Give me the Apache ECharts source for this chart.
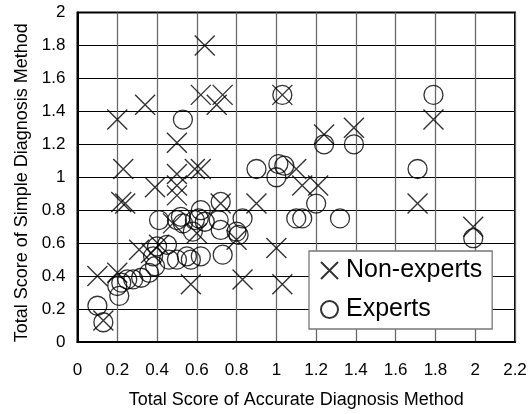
<!DOCTYPE html>
<html>
<head>
<meta charset="utf-8">
<script src="https://cdn.jsdelivr.net/npm/echarts@6/dist/echarts.min.js"></script>
<style>
html,body{margin:0;padding:0;background:#fff;}
#chart{width:532px;height:414px;}
</style>
</head>
<body>
<div id="chart"></div>
<script>
const seriesNames = ['Non-experts', 'Experts'];
const xAxisTitle = 'Total Score of Accurate Diagnosis Method';
const yAxisTitle = 'Total Score of Simple Diagnosis Method';

const nonExpertsPoints = [
  [0.64,1.80],[0.62,1.50],[0.70,1.44],[0.73,1.50],[1.03,1.50],[0.34,1.44],[0.20,1.35],
  [0.50,1.21],[0.23,1.05],[0.59,1.05],[0.62,1.05],[0.50,1.02],[1.24,1.26],[1.39,1.30],
  [1.79,1.35],[1.10,1.05],[1.13,0.95],[1.21,0.95],[1.71,0.84],[1.99,0.70],[1.00,0.57],
  [1.03,0.35],[0.22,0.85],[0.24,0.84],[0.39,0.94],[0.50,0.95],[0.50,0.89],[0.72,0.84],
  [0.90,0.84],[0.80,0.62],[0.57,0.35],[0.83,0.38],[0.10,0.40],[0.13,0.13],[0.31,0.56],
  [0.37,0.54],[0.41,0.59],[0.20,0.42],[0.60,0.66],[0.48,0.72]
];

const expertsPoints = [
  [1.03,1.50],[0.53,1.35],[1.24,1.20],[1.39,1.20],[1.79,1.50],[1.71,1.05],[0.90,1.05],
  [1.01,1.08],[1.04,1.07],[1.00,1.00],[1.20,0.84],[1.10,0.75],[1.13,0.75],[1.32,0.75],
  [1.99,0.63],[0.72,0.85],[0.41,0.74],[0.50,0.74],[0.52,0.76],[0.62,0.80],[0.53,0.72],
  [0.59,0.74],[0.64,0.73],[0.72,0.68],[0.83,0.75],[0.80,0.67],[0.81,0.65],[0.55,0.52],
  [0.62,0.52],[0.73,0.53],[0.38,0.52],[0.45,0.59],[0.50,0.50],[0.46,0.50],[0.10,0.22],
  [0.13,0.12],[0.20,0.34],[0.21,0.28],[0.22,0.36],[0.25,0.38],[0.28,0.38],[0.32,0.39],
  [0.36,0.42],[0.39,0.46],[0.40,0.58],[0.57,0.50],[0.58,0.67],[0.61,0.75],[0.71,0.74]
];

const xTickMin = 0, xTickMax = 2.2, xTickStep = 0.2;
const yTickMin = 0, yTickMax = 2, yTickStep = 0.2;

const FONT = '"Liberation Sans", Arial, sans-serif';
const fmt = v => String(+v.toFixed(1));
const crossPath = 'path://M0,0L10,10M10,0L0,10';

const chart = echarts.init(document.getElementById('chart'), null, {renderer: 'canvas'});
chart.setOption({
  animation: false,
  backgroundColor: '#fff',
  textStyle: {fontFamily: FONT, color: '#000'},
  grid: {left: 77.5, top: 12.5, right: 17, bottom: 69, show: true,
         borderColor: '#000', borderWidth: 2, backgroundColor: 'transparent', containLabel: false},
  xAxis: {
    type: 'value', min: xTickMin, max: xTickMax, interval: xTickStep,
    name: xAxisTitle, nameLocation: 'middle', nameGap: 49,
    nameTextStyle: {fontSize: 18, color: '#000', fontFamily: FONT},
    axisLine: {show: true, lineStyle: {color: '#000', width: 2}},
    axisTick: {show: false},
    axisLabel: {fontSize: 17, color: '#000', margin: 20, fontFamily: FONT, formatter: fmt},
    splitLine: {show: true, lineStyle: {color: '#6a6a6a', width: 1.3}}
  },
  yAxis: {
    type: 'value', min: yTickMin, max: yTickMax, interval: yTickStep,
    name: yAxisTitle, nameLocation: 'middle', nameGap: 46,
    nameTextStyle: {fontSize: 18, color: '#000', fontFamily: FONT, padding: [0, 11, 0, 0]},
    axisLine: {show: true, lineStyle: {color: '#000', width: 2}},
    axisTick: {show: false},
    axisLabel: {fontSize: 17, color: '#000', margin: 12, fontFamily: FONT, formatter: fmt},
    splitLine: {show: true, lineStyle: {color: '#000', width: 1.2}}
  },
  legend: {
    orient: 'vertical', left: 309, top: 251,
    padding: [7, 10, 7, 11],
    itemWidth: 17, itemHeight: 17, itemGap: 14,
    backgroundColor: '#fff', borderColor: '#777', borderWidth: 1.3, borderRadius: 0,
    textStyle: {fontSize: 25, color: '#000', fontFamily: FONT, padding: [0, 0, 0, 3]},
    data: seriesNames
  },
  series: [
    {
      name: seriesNames[0], type: 'scatter', data: nonExpertsPoints,
      symbol: crossPath, symbolSize: 20,
      itemStyle: {color: 'rgba(0,0,0,0)', borderColor: '#000', borderWidth: 1.4},
      emphasis: {disabled: true}
    },
    {
      name: seriesNames[1], type: 'scatter', data: expertsPoints,
      symbol: 'circle', symbolSize: 19,
      itemStyle: {color: 'rgba(0,0,0,0)', borderColor: '#000', borderWidth: 1.3},
      emphasis: {disabled: true}
    }
  ]
});
</script>
</body>
</html>
